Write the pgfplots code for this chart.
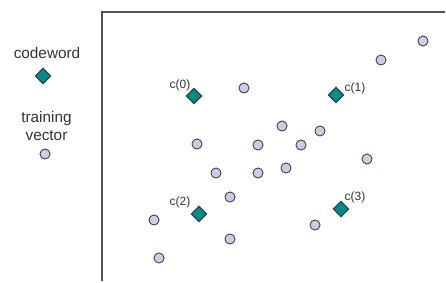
\documentclass[border=0pt]{standalone}
\usepackage{pgfplots}
\pgfplotsset{compat=1.18}
\usepackage{fontspec}
\setmainfont{Liberation Sans}
\definecolor{lav}{RGB}{204,204,230}
\definecolor{teal2}{RGB}{0,139,139}
\definecolor{edge}{RGB}{51,51,51}
\definecolor{txt}{RGB}{51,51,51}
\begin{document}
\begin{tikzpicture}
\begin{axis}[
  scale only axis, width=334.5pt, height=211.5pt,
  xmin=0, xmax=446, ymin=0, ymax=282,
  hide axis, clip=false,
]
\path (axis cs:0,0) rectangle (axis cs:446,282);
\draw[color=edge!85!white, line width=1.1pt] (axis cs:102,1) -- (axis cs:102,270) -- (axis cs:445,270);
\addplot[only marks, mark=*, mark size=3.8pt, mark options={fill=lav, draw=edge, line width=0.6pt}]
coordinates {
(423,241) (381,222) (244,194) (282,156) (320,151) (197,138) (258,137) (301,137)
(367,123) (216,109) (258,109) (286,114) (230,85) (154,62) (315,57) (230,43) (159,24)
(45,128)
};
\addplot[only marks, mark=square*, mark size=4.1pt, mark options={rotate=45, fill=teal2, draw=edge, line width=0.6pt}]
coordinates {
(194,186) (336,187) (199,68) (341,73) (43,206)
};
\node[text=txt, font=\fontsize{9}{10}\selectfont] at (axis cs:180,197) {c(0)};
\node[text=txt, font=\fontsize{9}{10}\selectfont] at (axis cs:355,194) {c(1)};
\node[text=txt, font=\fontsize{9}{10}\selectfont] at (axis cs:180,80) {c(2)};
\node[text=txt, font=\fontsize{9}{10}\selectfont] at (axis cs:355,85) {c(3)};
\node[text=txt, font=\fontsize{11.5}{13.5}\selectfont] at (axis cs:47,229) {codeword};
\node[text=txt, font=\fontsize{11.5}{13.5}\selectfont, align=center] at (axis cs:46.5,156) {training\\vector};
\end{axis}
\end{tikzpicture}
\end{document}
